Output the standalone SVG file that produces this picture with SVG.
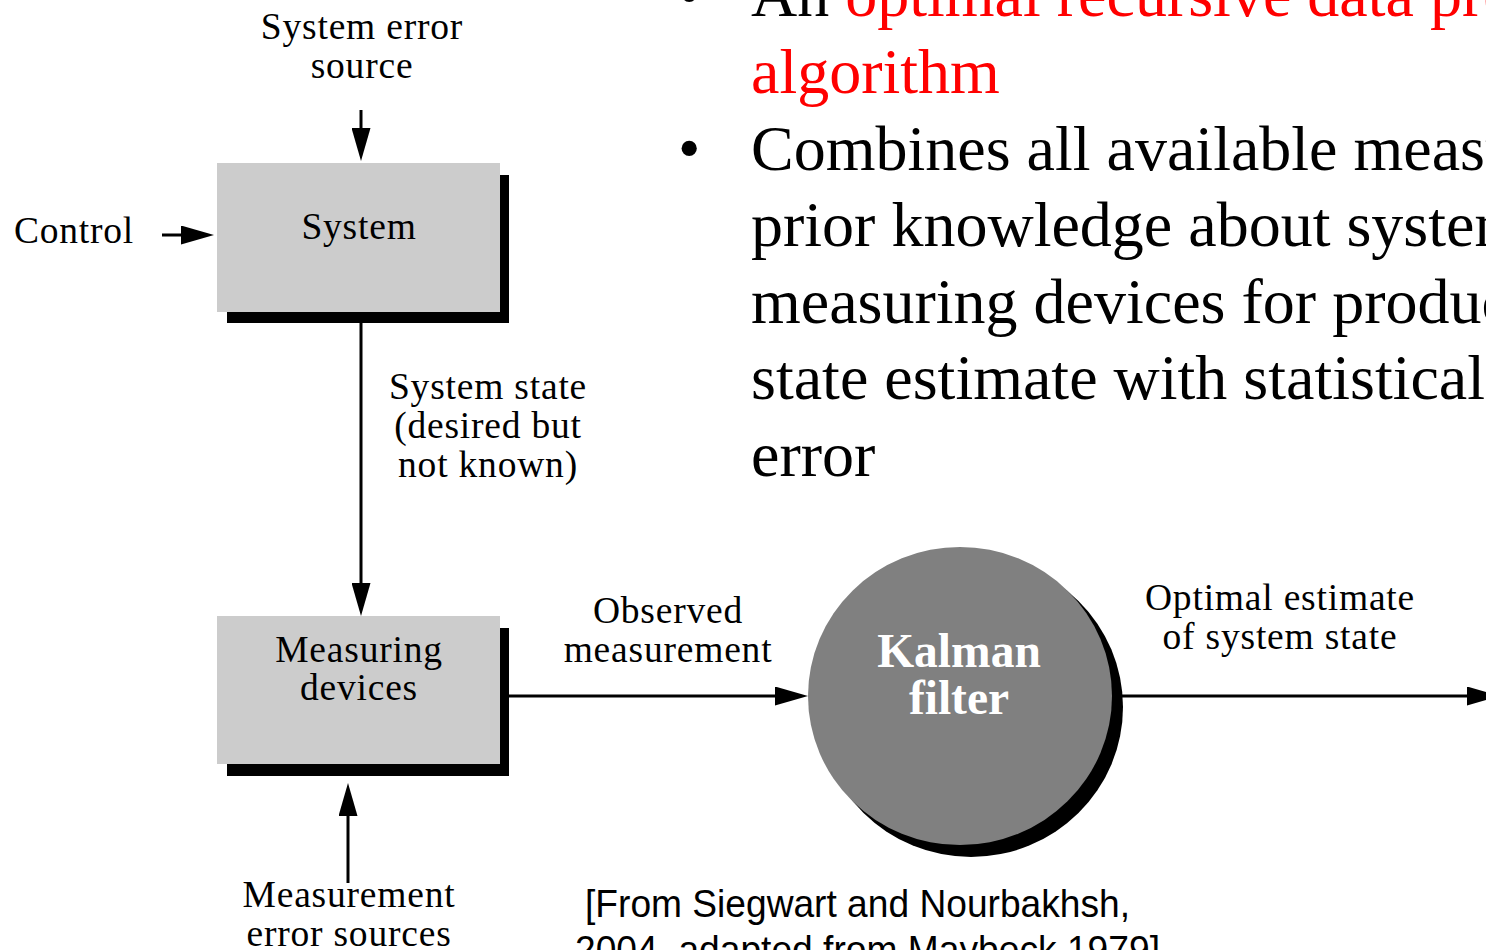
<svg xmlns="http://www.w3.org/2000/svg" width="1486" height="950" viewBox="0 0 1486 950">
  <style>
    .lbl { font-family: "Liberation Serif", "Times New Roman", serif; font-size: 37.5px; letter-spacing: 0.8px; fill: #000; text-anchor: middle; }
    .big { font-family: "Liberation Serif", "Times New Roman", serif; font-size: 64px; fill: #000; }
    .red { fill: #ff0000; }
    .kal { font-family: "Liberation Serif", "Times New Roman", serif; font-size: 47.5px; font-weight: bold; fill: #ffffff; text-anchor: middle; }
    .cite { font-family: "Liberation Sans", Arial, sans-serif; font-size: 39px; fill: #000; }
    .box { fill: #cccccc; }
    .shadow { fill: #000; }
    .wire { stroke: #000; stroke-width: 3; fill: none; marker-end: url(#head); }
  </style>
  <defs>
    <marker id="head" viewBox="0 0 33 19" refX="23" refY="9.5" markerWidth="33" markerHeight="19" markerUnits="userSpaceOnUse" orient="auto">
      <path d="M0,0 L33,9.5 L0,19 Z" fill="#000"/>
    </marker>
  </defs>
  <rect width="1486" height="950" fill="#ffffff"/>

  <!-- bullet text -->
  <g id="bullets">
    <text class="big" x="678" y="16">•</text>
    <text class="big" x="751" y="16">An <tspan class="red">optimal recursive data processing</tspan></text>
    <text class="big red" x="751" y="93">algorithm</text>
    <text class="big" x="678" y="170">•</text>
    <text class="big" x="751" y="170">Combines all available measurements</text>
    <text class="big" x="751" y="246">prior knowledge about system</text>
    <text class="big" x="751" y="323">measuring devices for producing</text>
    <text class="big" x="751" y="399">state estimate with statistically</text>
    <text class="big" x="751" y="476">error</text>
  </g>

  <!-- connectors -->
  <g id="connectors">
    <line class="wire" x1="361" y1="110" x2="361" y2="151"/>
    <line class="wire" x1="162" y1="235" x2="204" y2="235"/>
    <line class="wire" x1="361" y1="323" x2="361" y2="606"/>
    <line class="wire" x1="348" y1="883" x2="348" y2="793"/>
    <line class="wire" x1="509" y1="696" x2="798" y2="696"/>
    <line class="wire" x1="1122" y1="696" x2="1490" y2="696"/>
  </g>

  <!-- free labels -->
  <g id="labels">
    <text class="lbl" x="362" y="39">System error</text>
    <text class="lbl" x="362" y="78">source</text>
    <text class="lbl" x="74" y="243">Control</text>
    <text class="lbl" x="488" y="399">System state</text>
    <text class="lbl" x="488" y="438">(desired but</text>
    <text class="lbl" x="488" y="477">not known)</text>
    <text class="lbl" x="668" y="623">Observed</text>
    <text class="lbl" x="668" y="662">measurement</text>
    <text class="lbl" x="1280" y="610">Optimal estimate</text>
    <text class="lbl" x="1280" y="649">of system state</text>
    <text class="lbl" x="349" y="907">Measurement</text>
    <text class="lbl" x="349" y="946">error sources</text>
  </g>

  <g id="system">
    <rect class="shadow" x="227" y="175" width="282" height="148"/>
    <rect class="box" x="217" y="163" width="283" height="149"/>
    <text class="lbl" x="359" y="239">System</text>
  </g>

  <g id="measuring-devices">
    <rect class="shadow" x="227" y="628" width="282" height="148"/>
    <rect class="box" x="217" y="616" width="283" height="148"/>
    <text class="lbl" x="359" y="662">Measuring</text>
    <text class="lbl" x="359" y="700">devices</text>
  </g>

  <g id="kalman-filter">
    <ellipse class="shadow" cx="971" cy="707" rx="152" ry="150"/>
    <ellipse cx="960" cy="696" rx="152" ry="149" fill="#808080"/>
    <text class="kal" x="959" y="667">Kalman</text>
    <text class="kal" x="959" y="714">filter</text>
  </g>

  <g id="citation">
    <text class="cite" x="585" y="917" textLength="545" lengthAdjust="spacingAndGlyphs">[From Siegwart and Nourbakhsh,</text>
    <text class="cite" x="575" y="963" textLength="585" lengthAdjust="spacingAndGlyphs">2004, adapted from Maybeck 1979]</text>
  </g>
</svg>
